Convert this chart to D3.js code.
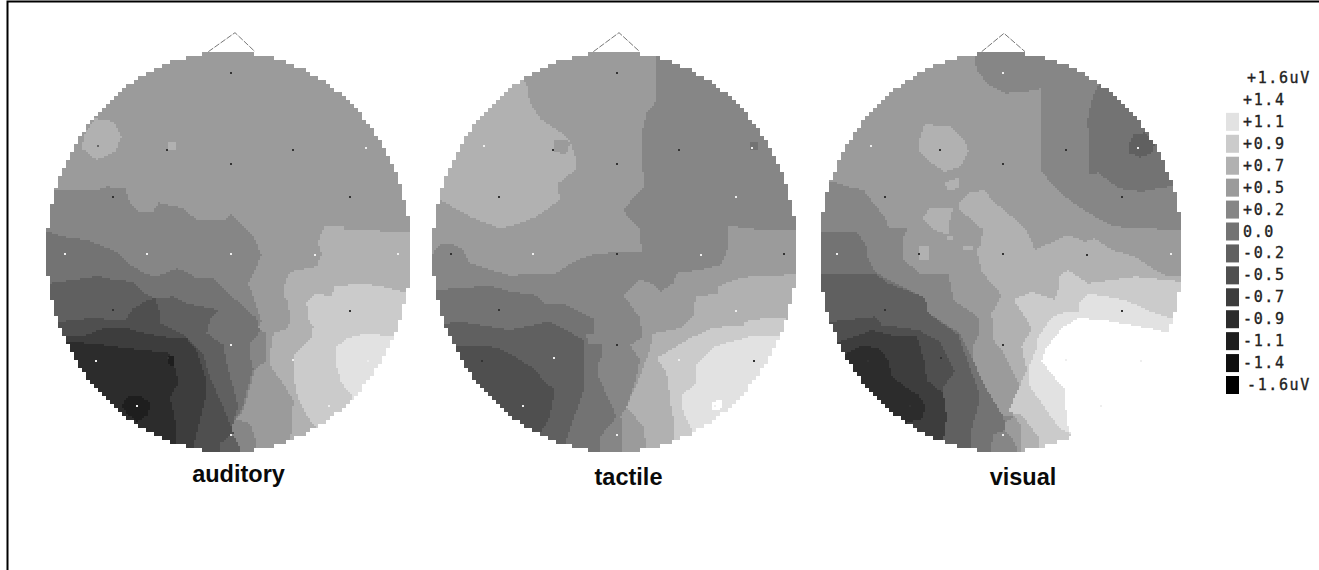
<!DOCTYPE html>
<html>
<head>
<meta charset="utf-8">
<script src="https://cdn.jsdelivr.net/npm/d3@7"></script>
<style>
  html, body { margin: 0; background: #fff; }
  svg { display: block; }
  .cond { font-family: "Liberation Sans", Arial, sans-serif; font-weight: bold; font-size: 23.5px; fill: #0a0a0a; }
  .key { font-family: "DejaVu Sans Mono", monospace; font-size: 15px; fill: #222; letter-spacing: 1.6px; stroke: #222; stroke-width: 0.35px; }
</style>
</head>
<body>
<svg id="chart"></svg>
<script>
// scalp outlines are in map units: 3 units = 1px
var levels = [1.6, 1.4, 1.1, 0.9, 0.7, 0.5, 0.2, 0.0, -0.2, -0.5, -0.7, -0.9, -1.1, -1.4, -1.6];
var shades = ['#ffffff', '#ffffff', '#e2e2e2', '#cbcbcb', '#b1b1b1', '#9b9b9b', '#868686', '#737373', '#606060', '#4f4f4f', '#3d3d3d', '#2c2c2c', '#1e1e1e', '#0f0f0f', '#000000'];
var keyLabels = ['+1.6uV', '+1.4', '+1.1', '+0.9', '+0.7', '+0.5', '+0.2', '0.0', '-0.2', '-0.5', '-0.7', '-0.9', '-1.1', '-1.4', '-1.6uV'];
var conditions = ['auditory', 'tactile', 'visual'];

// electrode sites, relative to the head centre
var sites = [[6,160],[-391,378],[-184,390],[194,390],[412,385],[6,432],[-348,530],[364,532],[-491,703],[-246,703],[6,703],[259,705],[509,703],[-348,870],[364,872],[-398,1023],[-181,1013],[6,975],[194,1020],[419,1023],[-274,1158],[301,1158],[6,1245]];
var auditorySites = 'dmddldddlllllddldlllll';
var tactileSites = 'dlddlddldldlddldldldll';
var visualSites = 'llddlddd' + 'ldddl' + 'dd' + 'ddd' + 'lld' + 'll';

var auditoryBands = [
  [0.7, [[885,620],[945,618],[945,630],[1040,628],[1050,635],[1200,635],[1200,1400],[780,1400],[780,1260],[785,1230],[790,1140],[765,1100],[720,1035],[720,1000],[730,940],[775,925],[780,900],[775,845],[760,825],[765,790],[780,755],[860,740],[875,700],[865,670],[870,650]]],
  [0.7, [[165,340],[195,295],[250,305],[275,350],[255,395],[200,420],[155,385]]],
  [0.7, [[412,365],[438,365],[438,392],[412,392]]],
  [0.9, [[830,850],[855,820],[905,830],[915,800],[990,790],[1060,800],[1120,815],[1200,815],[1200,1400],[870,1400],[855,1215],[840,1200],[815,1160],[800,1120],[790,1060],[790,1010],[845,950],[850,920],[835,900]]],
  [1.1, [[920,980],[950,955],[1010,940],[1090,950],[1200,950],[1200,1400],[1000,1400],[965,1125],[935,1090],[920,1040]]],
  [0.2, [[0,510],[200,510],[230,500],[285,505],[300,550],[330,578],[370,575],[385,548],[460,565],[500,600],[590,597],[600,582],[630,610],[670,650],[695,705],[675,750],[655,790],[690,890],[695,905],[685,925],[710,940],[710,1020],[675,1050],[640,1170],[615,1205],[600,1400],[0,1400]]],
  [0.0, [[170,660],[260,695],[300,735],[345,760],[380,770],[440,745],[470,755],[500,775],[550,775],[590,815],[640,860],[680,895],[690,935],[660,970],[660,1010],[670,1045],[635,1170],[610,1205],[600,1400],[0,1400],[0,630],[50,635],[100,650]]],
  [-0.2, [[0,790],[60,790],[130,780],[205,768],[250,780],[310,785],[345,820],[375,835],[430,830],[470,850],[570,870],[540,900],[530,940],[580,975],[590,1030],[625,1160],[610,1205],[605,1240],[625,1270],[635,1300],[635,1400],[0,1400]]],
  [0.2, [[610,1205],[630,1200],[660,1210],[680,1270],[672,1400],[635,1400],[635,1300],[625,1270],[605,1240]]],
  [-0.5, [[0,905],[90,905],[180,895],[285,900],[310,865],[345,845],[375,835],[390,880],[390,910],[470,950],[520,1000],[535,1060],[590,1185],[610,1240],[570,1270],[570,1400],[0,1400]]],
  [-0.7, [[0,955],[110,950],[170,945],[220,925],[290,925],[345,940],[395,950],[470,955],[500,990],[530,1085],[525,1140],[510,1200],[485,1300],[485,1400],[0,1400]]],
  [-0.9, [[0,965],[120,965],[220,975],[290,985],[345,990],[420,1000],[440,1060],[445,1090],[420,1130],[435,1200],[440,1270],[440,1400],[0,1400]]],
  [-1.1, [[275,1155],[295,1130],[330,1125],[360,1150],[355,1185],[320,1205],[290,1180]]],
  [-1.1, [[410,1005],[435,1010],[430,1040],[415,1030]]]
];

var tactileBands = [
  [0.2, [[708,0],[708,245],[680,280],[665,340],[665,400],[672,500],[608,570],[660,630],[665,695],[600,698],[530,700],[470,720],[400,765],[310,760],[280,770],[150,730],[130,690],[100,672],[60,672],[40,700],[0,720],[0,1400],[1200,1400],[1200,0]]],
  [0.5, [[925,618],[1030,630],[1200,630],[1200,1400],[605,1400],[605,1200],[600,1190],[620,1160],[650,1070],[660,1020],[630,975],[668,950],[660,895],[610,825],[660,780],[695,790],[720,815],[760,790],[770,760],[840,750],[900,735],[920,700],[925,660]]],
  [0.7, [[0,0],[280,0],[305,175],[320,195],[330,250],[360,295],[420,335],[450,365],[470,420],[465,450],[415,490],[418,540],[350,590],[300,610],[240,625],[160,595],[60,540],[0,520]]],
  [0.5, [[400,358],[440,358],[450,370],[440,400],[400,398]]],
  [0.0, [[993,365],[1017,365],[1017,392],[993,392]]],
  [0.7, [[1200,760],[990,770],[940,780],[895,800],[895,820],[830,830],[820,860],[820,890],[780,925],[700,940],[690,990],[655,1080],[620,1160],[670,1220],[680,1290],[680,1400],[1200,1400]]],
  [0.9, [[1200,900],[1030,895],[975,905],[975,918],[880,922],[800,960],[710,1015],[740,1060],[752,1150],[765,1220],[765,1400],[1200,1400]]],
  [1.1, [[1200,945],[990,950],[880,980],[830,1035],[830,1090],[785,1125],[790,1180],[820,1235],[900,1400],[1200,1400]]],
  [1.4, [[875,1145],[905,1140],[905,1165],[890,1172],[875,1170]]],
  [0.0, [[0,810],[50,810],[110,805],[175,800],[220,800],[270,815],[345,825],[375,850],[430,850],[470,870],[525,900],[520,940],[500,945],[505,975],[545,975],[545,1010],[535,1030],[535,1070],[590,1190],[540,1250],[545,1400],[0,1400]]],
  [-0.2, [[0,915],[80,910],[120,905],[180,915],[270,930],[340,915],[385,905],[430,925],[490,960],[495,1020],[495,1100],[445,1240],[435,1275],[435,1400],[0,1400]]],
  [-0.5, [[0,978],[105,978],[165,978],[230,982],[285,1010],[340,1045],[375,1085],[405,1110],[395,1160],[385,1200],[360,1240],[360,1400],[0,1400]]]
];

var visualBands = [
  [0.2, [[505,0],[505,100],[515,150],[550,195],[600,220],[660,215],[710,205],[710,455],[740,490],[780,530],[820,560],[870,590],[930,620],[1200,635],[1200,0]]],
  [0.0, [[890,150],[880,195],[860,240],[848,300],[855,465],[880,458],[940,505],[1010,515],[1105,497],[1200,480],[1200,150]]],
  [-0.2, [[970,375],[985,345],[1020,338],[1050,370],[1040,400],[1005,412],[975,400]]],
  [0.7, [[340,370],[360,310],[385,315],[440,320],[480,360],[490,395],[465,440],[420,455],[375,425],[345,395]]],
  [0.7, [[415,490],[465,470],[460,505],[430,510]]],
  [0.7, [[350,595],[375,565],[445,565],[435,600],[430,645],[385,630]]],
  [0.7, [[425,650],[445,650],[445,660],[425,660]]],
  [0.7, [[475,680],[505,680],[500,690],[475,690]]],
  [0.7, [[340,680],[370,680],[372,720],[345,722]]],
  [0.2, [[0,480],[80,485],[130,500],[175,510],[245,600],[250,625],[310,625],[295,650],[295,720],[345,760],[430,760],[445,840],[510,885],[525,900],[525,940],[505,975],[500,1030],[535,1090],[595,1190],[625,1190],[600,1210],[600,1400],[0,1400]]],
  [0.0, [[0,635],[155,635],[185,680],[190,720],[210,755],[250,780],[340,825],[360,835],[370,880],[465,940],[495,1000],[535,1090],[595,1190],[600,1210],[600,1400],[0,1400]]],
  [0.2, [[555,1300],[565,1245],[600,1230],[625,1260],[640,1296],[640,1400],[555,1400]]],
  [-0.2, [[0,765],[170,765],[210,760],[250,790],[340,825],[360,835],[370,880],[460,945],[490,1030],[520,1110],[523,1140],[500,1230],[495,1400],[0,1400]]],
  [-0.5, [[0,905],[80,905],[210,890],[230,915],[340,930],[405,965],[450,1055],[415,1100],[415,1140],[425,1190],[410,1260],[410,1400],[0,1400]]],
  [-0.7, [[0,965],[100,965],[150,950],[200,930],[260,945],[335,950],[345,980],[360,1030],[365,1080],[415,1120],[425,1190],[415,1265],[415,1400],[0,1400]]],
  [-0.9, [[0,1000],[125,1000],[170,975],[220,985],[250,1020],[260,1070],[300,1100],[340,1125],[362,1160],[350,1200],[310,1205],[250,1400],[0,1400]]],
  [0.7, [[460,550],[490,520],[540,510],[560,540],[615,585],[665,630],[690,690],[745,665],[790,645],[840,665],[870,655],[920,690],[990,710],[1050,750],[1080,765],[1200,770],[1200,1400],[650,1400],[650,1220],[625,1185],[635,1135],[650,1110],[590,990],[565,960],[560,880],[590,825],[530,755],[515,690],[525,680],[535,630],[465,570]]],
  [0.9, [[1200,785],[1130,785],[990,770],[850,790],[790,750],[760,770],[765,790],[750,840],[680,815],[625,840],[660,890],[680,925],[650,980],[665,1050],[630,1130],[610,1175],[650,1185],[700,1250],[700,1400],[1200,1400]]],
  [1.1, [[1200,905],[1100,895],[1050,880],[960,840],[850,820],[820,850],[820,875],[760,880],[730,905],[700,950],[695,985],[670,1045],[675,1100],[745,1200],[770,1230],[795,1240],[810,1400],[1200,1400]]],
  [1.4, [[1200,945],[1090,945],[1060,930],[950,910],[900,900],[820,895],[770,925],[720,990],[710,1025],[780,1110],[785,1210],[800,1250],[900,1400],[1200,1400]]]
];

var noseLines = [
  [[535,95],[615,38],[675,95]],
  [[520,95],[597,38],[657,93]],
  [[530,95],[597,40],[660,95]]
];

document.addEventListener('DOMContentLoaded', () => {
  var size = { width: 1319, height: 570 };
  var heads = [
    { left: 30, top: 20, cx: 596, base: 0.5, bands: auditoryBands, dots: auditorySites, labelX: 238.5, labelY: 482 },
    { left: 420, top: 20, cx: 584, base: 0.5, bands: tactileBands, dots: tactileSites, labelX: 628.5, labelY: 485 },
    { left: 805, top: 20, cx: 588, base: 0.5, bands: visualBands, dots: visualSites, labelX: 1023, labelY: 485 }
  ];
  var rx = 546, ry = 600, cy = 696;

  var shade = d3.scaleOrdinal().domain(levels).range(shades);

  var svg = d3.select('#chart')
    .attr('width', size.width)
    .attr('height', size.height);

  svg.append('rect')
    .attr('width', size.width)
    .attr('height', size.height)
    .attr('fill', '#fff');

  // frame: only top and left survive in the scan
  svg.append('path')
    .attr('d', `M7.5,${ size.height }V1.5H${ size.width }`)
    .attr('fill', 'none')
    .attr('stroke', '#000')
    .attr('stroke-width', 2);

  heads.forEach((head, h) => {
    var x = d3.scaleLinear().domain([0, 1200]).range([head.left, head.left + 400]);
    var y = d3.scaleLinear().domain([0, 1380]).range([head.top, head.top + 460]);
    var g = svg.append('g').attr('shape-rendering', 'crispEdges');

    // 2px sampling inside, 4px staircase on the scalp edge
    var paths = new Map();
    var levelAt = (u, v) => {
      for (var i = head.bands.length - 1; i >= 0; i--) {
        if (d3.polygonContains(head.bands[i][1], [u, v])) return head.bands[i][0];
      }
      return head.base;
    };
    var inside = (u, v) => {
      var qu = Math.floor(u / 12) * 12 + 6;
      var qv = Math.floor(v / 12) * 12 + 6;
      return Math.pow((qu - head.cx) / rx, 2) + Math.pow((qv - cy) / ry, 2) <= 1;
    };
    d3.range(90, 1302, 6).forEach(v => {
      var start = null, current = null;
      var flush = end => {
        if (current === null) return;
        if (!paths.has(current)) paths.set(current, d3.path());
        paths.get(current).rect(x(start), y(v), x(end) - x(start), y(v + 6) - y(v));
      };
      d3.range(0, 1206, 6).forEach(u => {
        var l = inside(u, v) ? levelAt(u + 3, v + 3) : null;
        if (l !== current) {
          flush(u);
          start = u;
          current = l;
        }
      });
      flush(1206);
    });

    g.selectAll('path')
      .data(Array.from(paths.entries()))
      .enter().append('path')
        .attr('d', d => d[1].toString())
        .attr('fill', d => shade(d[0]));

    g.append('g')
      .selectAll('rect')
      .data(sites)
      .enter().append('rect')
        .attr('x', d => x(d[0] + head.cx) - 1)
        .attr('y', d => y(d[1]) - 1)
        .attr('width', 2)
        .attr('height', 2)
        .attr('fill', (d, i) => ({ d: '#333333', l: '#eeeeee', m: '#666666' })[head.dots[i]] || '#eeeeee');

    var line = d3.line().x(d => x(d[0])).y(d => y(d[1]));
    svg.append('path')
      .attr('d', line(noseLines[h]))
      .attr('fill', 'none')
      .attr('stroke', '#777')
      .attr('stroke-width', 1)
      .attr('stroke-dasharray', '6,1.5');

    svg.append('text')
      .attr('class', 'cond')
      .attr('x', head.labelX)
      .attr('y', head.labelY)
      .attr('text-anchor', 'middle')
      .text(conditions[h]);
  });

  // colour key
  var keyY = d3.scalePoint().domain(keyLabels).range([78, 385]);
  var key = svg.append('g');
  key.selectAll('rect')
    .data(keyLabels)
    .enter().append('rect')
      .attr('x', 1226)
      .attr('y', d => keyY(d) - 9)
      .attr('width', 13)
      .attr('height', 18)
      .attr('fill', (d, i) => shades[i]);
  key.selectAll('text')
    .data(keyLabels)
    .enter().append('text')
      .attr('class', 'key')
      .attr('x', d => d.endsWith('uV') ? 1247 : 1243)
      .attr('y', d => keyY(d) + 5)
      .text(d => d);
});
</script>
</body>
</html>
